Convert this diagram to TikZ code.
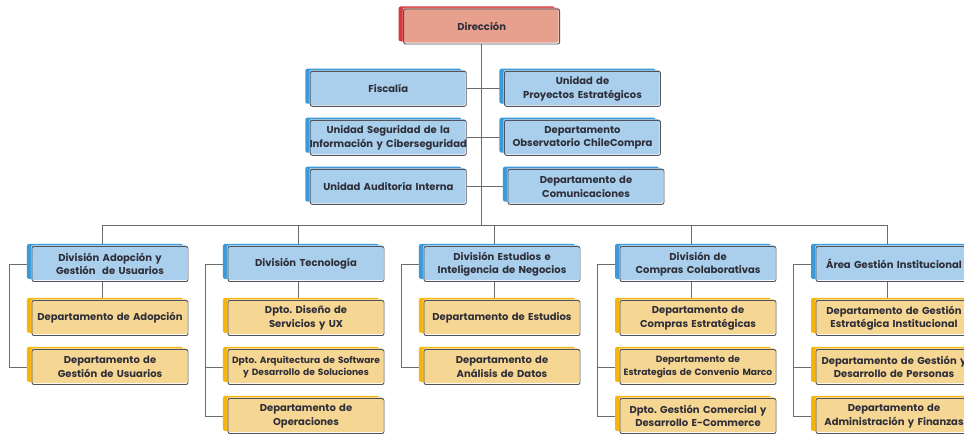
\documentclass[tikz,border=0pt]{standalone}
\usepackage{fontspec}
\setmainfont{Poppins}
\frenchspacing
\usepackage{xcolor}
\usepackage{tikz}
\usetikzlibrary{positioning}
\usetikzlibrary{shapes,arrows,shadows,backgrounds}
\definecolor{rojo}{HTML}{D7373F}
\definecolor{salmon}{HTML}{E8A08E}
\definecolor{azul}{HTML}{3A9BDC}
\definecolor{celeste}{HTML}{A9CFEC}
\definecolor{ambar}{HTML}{F5B50A}
\definecolor{crema}{HTML}{F6D693}
\definecolor{borde}{HTML}{50535C}
\definecolor{texto}{HTML}{2E2E38}
\definecolor{linea}{HTML}{6B6B6B}
\tikzstyle{block} = [rectangle, draw=borde, line width=0.9pt, rounded corners=2pt,
text width=156pt, inner xsep=0pt, inner ysep=0pt, minimum height=35pt, align=center,
text=texto, font=\fontsize{10}{13.5}\selectfont\bfseries]
\tikzstyle{jefatura} = [block, general shadow={fill=rojo, shadow xshift=-5pt, shadow yshift=2.6pt},
general shadow={fill=salmon, shadow xshift=-1pt, shadow yshift=1.3pt}]
\tikzstyle{unidad} = [block, general shadow={fill=azul, shadow xshift=-5pt, shadow yshift=2.6pt},
general shadow={fill=celeste, shadow xshift=-1pt, shadow yshift=1.3pt}]
\tikzstyle{depto} = [block, general shadow={fill=ambar, shadow xshift=-5pt, shadow yshift=2.6pt},
general shadow={fill=crema, shadow xshift=-1pt, shadow yshift=1.3pt}]
\tikzstyle{chico} = [font=\fontsize{9.1}{12.5}\selectfont\bfseries]
\tikzstyle{line} = [draw=linea, line width=1pt]
\begin{document}
\begin{tikzpicture}[node distance = 49pt, auto]
\useasboundingbox (-481.7pt,26.5pt) rectangle (482.3pt,-407.5pt);
    % nodes
\node [jefatura] (dir) {Dirección};
\node [unidad, below of=dir, xshift=-93.4pt, yshift=-13.3pt] (fis) {Fiscalía};
\node [unidad, right of=fis, xshift=145.2pt] (upe) {Unidad de\\Proyectos Estratégicos};
\node [unidad, below of=fis] (usi) {\makebox[\hsize]{Unidad Seguridad de la}\\\makebox[\hsize]{Información y Ciberseguridad}};
\node [unidad, below of=upe] (doc) {Departamento\\Observatorio ChileCompra};
\node [unidad, below of=usi] (uai) {Unidad Auditoría Interna};
\node [unidad, below of=doc, xshift=3.5pt] (dco) {Departamento de\\Comunicaciones};
\node [unidad, below of=dir, yshift=-188.5pt, xshift=20.3pt] (d3) {División Estudios e\\Inteligencia de Negocios};
\node [unidad, left of=d3, xshift=-147pt] (d2) {División Tecnología};
\node [unidad, left of=d2, xshift=-147pt] (d1) {División Adopción y\\Gestión\ \ de Usuarios};
\node [unidad, right of=d3, xshift=147pt] (d4) {División de\\Compras Colaborativas};
\node [unidad, right of=d4, xshift=147pt] (d5) {\makebox[\hsize]{Área Gestión Institucional}};
\node [depto, below of=d1, yshift=-5pt] (d1a) {Departamento de Adopción};
\node [depto, below of=d1a] (d1b) {Departamento de\\Gestión de Usuarios};
\node [depto, below of=d2, yshift=-5pt] (d2a) {Dpto. Diseño de\\Servicios y UX};
\node [depto, chico, below of=d2a] (d2b) {\makebox[\hsize]{Dpto. Arquitectura de Software}\\y Desarrollo de Soluciones};
\node [depto, below of=d2b] (d2c) {Departamento de\\Operaciones};
\node [depto, below of=d3, yshift=-5pt] (d3a) {Departamento de Estudios};
\node [depto, below of=d3a] (d3b) {Departamento de\\Análisis de Datos};
\node [depto, below of=d4, yshift=-5pt] (d4a) {Departamento de\\Compras Estratégicas};
\node [depto, chico, below of=d4a] (d4b) {Departamento de\\\makebox[\hsize]{Estrategias de Convenio Marco}};
\node [depto, below of=d4b] (d4c) {Dpto. Gestión Comercial y\\Desarrollo E-Commerce};
\node [depto, below of=d5, yshift=-5pt] (d5a) {Departamento de Gestión\\Estratégica Institucional};
\node [depto, below of=d5a] (d5b) {\makebox[\hsize]{Departamento de Gestión y}\\Desarrollo de Personas};
\node [depto, below of=d5b] (d5c) {Departamento de\\\makebox[\hsize]{Administración y Finanzas}};
\coordinate [above=20.5pt of d3.north] (bus);

%edges
\begin{scope}[on background layer]
\draw [line] (dir.south) -- (dir.south |- bus);
\draw [line] (fis) -- (upe);
\draw [line] (usi) -- (doc);
\draw [line] (uai) -- (dco);
\draw [line] ([xshift=-7pt]d1.north) |- (bus) -| ([xshift=-7pt]d5.north);
\draw [line] ([xshift=-7pt]d2.north) -- ([xshift=-7pt]d2.north |- bus);
\draw [line] ([xshift=-7pt]d3.north) -- ([xshift=-7pt]d3.north |- bus);
\draw [line] ([xshift=-7pt]d4.north) -- ([xshift=-7pt]d4.north |- bus);
\draw [line] ([xshift=-7pt]d1.south) -- ([xshift=-7pt]d1a.north);
\draw [line] ([xshift=-7pt]d2.south) -- ([xshift=-7pt]d2a.north);
\draw [line] ([xshift=-7pt]d3.south) -- ([xshift=-7pt]d3a.north);
\draw [line] ([xshift=-7pt]d4.south) -- ([xshift=-7pt]d4a.north);
\draw [line] ([xshift=-7pt]d5.south) -- ([xshift=-7pt]d5a.north);
\draw [line] (d1) -| ([xshift=-22pt]d1b.west) -- (d1b);
\draw [line] (d2) -| ([xshift=-22pt]d2c.west) -- (d2c);
\draw [line] (d2b) -- ([xshift=-22pt]d2b.west);
\draw [line] (d3) -| ([xshift=-22pt]d3b.west) -- (d3b);
\draw [line] (d4) -| ([xshift=-22pt]d4c.west) -- (d4c);
\draw [line] (d4b) -- ([xshift=-22pt]d4b.west);
\draw [line] (d5) -| ([xshift=-22pt]d5c.west) -- (d5c);
\draw [line] (d5b) -- ([xshift=-22pt]d5b.west);
\end{scope}
\end{tikzpicture}
\end{document}
